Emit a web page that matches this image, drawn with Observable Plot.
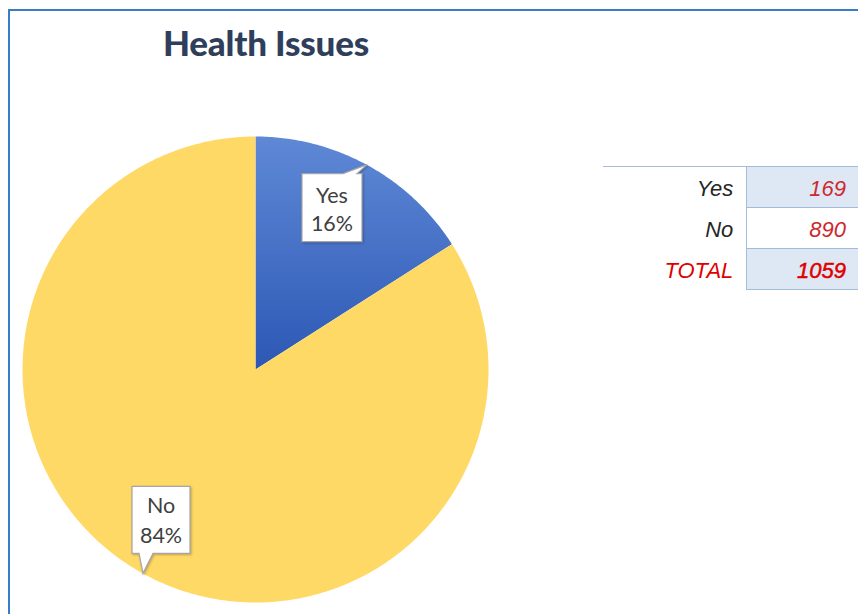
<!DOCTYPE html>
<html><head><meta charset="utf-8">
<script src="https://cdn.jsdelivr.net/npm/d3@7"></script>
<script src="https://cdn.jsdelivr.net/npm/@observablehq/plot@0.6"></script>
<style>
html,body{margin:0;padding:0;background:#fff;}
#wrap{position:relative;width:858px;height:614px;overflow:hidden;font-family:Lato,"Open Sans",sans-serif;}
#frame{position:absolute;left:8px;top:9px;width:900px;height:700px;border-left:2px solid #3b7dc4;border-top:2px solid #3b7dc4;}
#chart{position:absolute;left:0;top:0;}
#title{position:absolute;left:0;width:532px;top:22px;text-align:center;font-family:Lato,sans-serif;font-weight:900;font-size:35px;line-height:40px;letter-spacing:-0.2px;color:#2f3e5a;}
#tbl{position:absolute;left:603px;top:166px;border-collapse:collapse;table-layout:fixed;font-family:"Liberation Sans",Arial,sans-serif;font-style:italic;font-size:22px;}
#tbl td{padding:3px 0 0 0;height:37px;vertical-align:middle;text-align:right;}
#tbl td.l{width:132px;padding-right:13px;color:#262626;}
#tbl td.v{width:100px;padding-right:12px;color:#cc2a2e;border:1px solid #a3bcdb;border-right:none;}
#tbl tr:first-child td{border-top:1px solid #a3bcdb;}
#tbl tr.shade td.v{background:#dde8f4;}
#tbl td.tl{color:#e00000;}
#tbl td.tv{color:#e00000;-webkit-text-stroke:0.5px #e00000;}
</style></head>
<body>
<div id="wrap">
  <div id="frame"></div>
  <div id="chart"></div>
  <div id="title"></div>
  <table id="tbl"></table>
</div>
<script>
// ---- data ----
const chartTitle = "Health Issues";
const categories = ["Yes", "No"];
const counts = [169, 890];
const totalLabel = "TOTAL";
const sliceColors = ["url(#yesGrad)", "#ffd966"];

// ---- layout (pixel offsets of callout boxes relative to their pointer tip) ----
const calloutLayout = [
  {dx: -65, dy: 9, w: 60, h: 68, edge: "top", b1: 41, b2: 55, l1: 29, l2: 57},
  {dx: -11, dy: -87, w: 58, h: 67, edge: "bottom", b1: 7, b2: 21, l1: 27, l2: 57}
];

const total = d3.sum(counts);
const rows = categories.map((name, i) => ({name, count: counts[i], color: sliceColors[i]}));
const arcs = d3.pie().sort(null).value(d => d.count)(rows);

function slicePoints(a) {
  const pts = [{x: 0, y: 0}];
  const n = Math.max(2, Math.ceil((a.endAngle - a.startAngle) / 0.01));
  for (let i = 0; i <= n; i++) {
    const t = a.startAngle + (a.endAngle - a.startAngle) * i / n;
    pts.push({x: Math.sin(t), y: Math.cos(t)});
  }
  return pts;
}

const NS = "http://www.w3.org/2000/svg";
function el(tag, attrs) {
  const e = document.createElementNS(NS, tag);
  for (const k in attrs) e.setAttribute(k, attrs[k]);
  return e;
}

function defsMark() {
  const defs = el("defs", {});
  const g = el("linearGradient", {id: "yesGrad", x1: 0, y1: 0, x2: 0, y2: 1});
  g.appendChild(el("stop", {offset: "0%", "stop-color": "#5f89d6"}));
  g.appendChild(el("stop", {offset: "100%", "stop-color": "#2c58b5"}));
  defs.appendChild(g);
  return defs;
}

function calloutMark(index, scales) {
  const g = el("g", {"font-family": "Lato, sans-serif", "font-size": 21.5, fill: "#404040"});
  arcs.forEach((a, i) => {
    const L = calloutLayout[i];
    const mid = (a.startAngle + a.endAngle) / 2;
    const tx = scales.x(Math.sin(mid)), ty = scales.y(Math.cos(mid));
    const bx = tx + L.dx, by = ty + L.dy, w = L.w, h = L.h;
    let d;
    if (L.edge === "top") {
      d = `M${bx},${by}H${bx + L.b1}L${tx},${ty}L${bx + L.b2},${by}H${bx + w}V${by + h}H${bx}Z`;
    } else {
      d = `M${bx},${by}H${bx + w}V${by + h}H${bx + L.b2}L${tx},${ty}L${bx + L.b1},${by + h}H${bx}Z`;
    }
    g.appendChild(el("path", {d, fill: "#fff", stroke: "#a6a6a6", "stroke-width": 1.2,
      style: "filter:drop-shadow(1px 1px 1px rgba(0,0,0,0.25))"}));
    const pct = Math.round(a.data.count / total * 100) + "%";
    [[a.data.name, L.l1], [pct, L.l2]].forEach(([s, off]) => {
      const t = el("text", {x: bx + w / 2, y: by + off, "text-anchor": "middle"});
      t.textContent = s;
      g.appendChild(t);
    });
  });
  return g;
}

const plot = Plot.plot({
  width: 858, height: 614,
  marginLeft: 22, marginRight: 370, marginTop: 136, marginBottom: 12,
  x: {domain: [-1, 1], axis: null},
  y: {domain: [-1, 1], axis: null},
  marks: [
    defsMark,
    ...arcs.map(a => Plot.line(slicePoints(a), {x: "x", y: "y", fill: a.data.color, stroke: "none"})),
    calloutMark
  ]
});
document.getElementById("chart").appendChild(plot);
document.getElementById("title").textContent = chartTitle;

// table
const tbl = document.getElementById("tbl");
const tableRows = rows.map(r => [r.name, r.count, false]).concat([[totalLabel, total, true]]);
tableRows.forEach(([lab, val, isTotal], i) => {
  const tr = document.createElement("tr");
  if (i % 2 === 0) tr.className = "shade";
  const a = document.createElement("td"); a.className = "l" + (isTotal ? " tl" : ""); a.textContent = lab;
  const b = document.createElement("td"); b.className = "v" + (isTotal ? " tv" : ""); b.textContent = val;
  tr.appendChild(a); tr.appendChild(b); tbl.appendChild(tr);
});
</script>
</body></html>
